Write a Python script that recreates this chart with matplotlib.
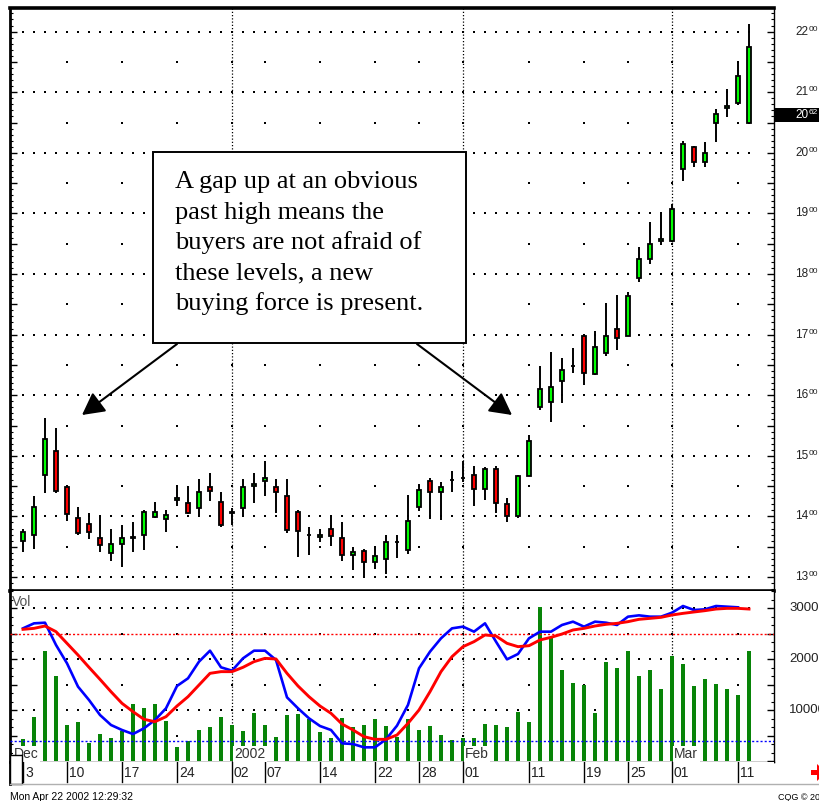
import matplotlib
matplotlib.use('Agg')
import matplotlib.pyplot as plt
import matplotlib.transforms as mtrans
from matplotlib import font_manager
from matplotlib.patches import Rectangle, FancyArrowPatch, Polygon
from matplotlib.lines import Line2D
from matplotlib.ticker import MultipleLocator

# daily bars, Dec 2001 - Mar 2002
opens = [1359, 1369, 1469, 1508, 1449, 1398, 1388, 1365, 1340, 1355, 1365, 1369, 1399, 1395, 1427, 1422, 1414,
         1449, 1424, 1406, 1414, 1450, 1458, 1448, 1434, 1408, 1369, 1366, 1379, 1365, 1336, 1343, 1324, 1329,
         1357, 1345, 1416, 1459, 1440, 1460, 1463, 1469, 1446, 1479, 1421, 1400, 1467, 1580, 1589, 1623, 1648,
         1698, 1635, 1669, 1709, 1698, 1793, 1825, 1855, 1855, 1974, 2010, 1984, 2050, 2074, 2083, 2049]
highs = [1379, 1433, 1563, 1546, 1451, 1416, 1406, 1399, 1379, 1385, 1390, 1411, 1423, 1411, 1450, 1450, 1462,
         1472, 1440, 1414, 1462, 1472, 1492, 1462, 1462, 1411, 1383, 1379, 1401, 1391, 1350, 1346, 1350, 1369,
         1369, 1435, 1453, 1463, 1457, 1475, 1491, 1483, 1481, 1483, 1431, 1469, 1534, 1648, 1672, 1661, 1678,
         1699, 1706, 1752, 1765, 1771, 1844, 1886, 1902, 1916, 2020, 2012, 2017, 2073, 2105, 2150, 2212]
lows = [1342, 1346, 1439, 1438, 1392, 1370, 1362, 1341, 1326, 1317, 1342, 1345, 1397, 1374, 1417, 1404, 1401,
        1425, 1383, 1386, 1401, 1422, 1434, 1406, 1372, 1333, 1336, 1357, 1351, 1327, 1312, 1301, 1313, 1305,
        1331, 1338, 1409, 1396, 1394, 1441, 1457, 1417, 1427, 1405, 1390, 1398, 1466, 1576, 1556, 1587, 1636,
        1617, 1633, 1665, 1675, 1697, 1787, 1816, 1848, 1853, 1954, 1976, 1976, 2017, 2059, 2079, 2048]
closes = [1375, 1416, 1528, 1442, 1404, 1372, 1375, 1352, 1355, 1365, 1366, 1408, 1408, 1402, 1431, 1406, 1440,
          1442, 1386, 1407, 1449, 1453, 1463, 1440, 1378, 1376, 1369, 1370, 1368, 1336, 1342, 1325, 1334, 1357,
          1357, 1392, 1444, 1440, 1448, 1460, 1463, 1446, 1479, 1422, 1401, 1467, 1524, 1610, 1613, 1642, 1649,
          1637, 1680, 1698, 1694, 1763, 1824, 1849, 1858, 1908, 2015, 1984, 1999, 2064, 2077, 2127, 2174]
volume = [4250, 8570, 21630, 16670, 7060, 7580, 3600, 5230, 4510, 5950, 11110, 10390, 11110, 7780, 2680, 3860,
          6140, 6670, 8570, 7060, 5950, 9480, 7060, 4770, 9020, 9220, 8170, 5690, 4510, 8500, 6670, 7060, 8240,
          6860, 4770, 8240, 6140, 6860, 5030, 4050, 4510, 4510, 7320, 7060, 6670, 9610, 7580, 30260, 24380,
          17840, 15230, 14900, 9410, 19480, 18300, 21630, 16670, 17840, 14120, 20590, 19020, 14770, 16010,
          15030, 14120, 12940, 21630]
vol_fast = [26010, 26990, 27120, 22750, 19150, 14580, 11960, 9020, 7060, 6080, 5290, 6410, 8040, 10330, 14710,
            16210, 19480, 21630, 18370, 17710, 20130, 21630, 21630, 19800, 12480, 10330, 8370, 6860, 6080, 3460,
            3330, 2680, 2680, 4250, 6930, 11000, 18170, 21440, 24050, 26010, 26340, 25360, 26990, 23400, 19930,
            20980, 24050, 25360, 25360, 26670, 27320, 26340, 27320, 27120, 26670, 28300, 28560, 28300, 28300,
            29080, 30390, 29610, 29740, 30390, 30260, 30130]
vol_slow = [25820, 26010, 26470, 25360, 23070, 20780, 18370, 16010, 13590, 11310, 9670, 8170, 7710, 8690, 10780,
            12610, 14900, 17190, 17520, 17520, 18370, 19480, 20130, 20000, 17190, 14710, 12610, 10780, 9350, 7250,
            6080, 4770, 4250, 4250, 5100, 7390, 10000, 13590, 17520, 20460, 22420, 23400, 24710, 24510, 23070,
            22420, 22610, 23730, 24250, 24900, 25690, 26010, 26470, 26800, 26990, 27320, 27780, 27970, 28170,
            28630, 28950, 29220, 29480, 29800, 29930, 29930, 29800]
vol_upper = 25000
vol_lower = 4000
last_label = 2062

tick_idx = [0, 4, 9, 14, 19, 22, 27, 32, 36, 40, 46, 51, 55, 59, 65]
tick_lab = ['3', '10', '17', '24', '02', '07', '14', '22', '28', '01', '11', '19', '25', '01', '11']
month_idx = [-1, 19, 40, 59]
month_lab = ['Dec', '2002', 'Feb', 'Mar']
month_lines = [19, 40, 59]
price_levels = list(range(1300, 2201, 100))
vol_levels = [10000, 20000, 30000]
note_lines = ['A gap up at an obvious', 'past high means the', 'buyers are not afraid of',
              'these levels, a new', 'buying force is present.']

names = {f.name for f in font_manager.fontManager.ttflist}
narrow = 'Liberation Sans Narrow' if 'Liberation Sans Narrow' in names else 'Liberation Sans'

W, H = 820, 801
def P(x, y):
    return (x / W, 1 - y / H)

fig = plt.figure(figsize=(W / 100, H / 100), dpi=100)
fig.patch.set_facecolor('white')

x0, x1 = 10, 774
ax_p = fig.add_axes([x0 / W, 1 - 591 / H, (x1 - x0) / W, (591 - 8) / H])
ax_v = fig.add_axes([x0 / W, 1 - 762 / H, (x1 - x0) / W, (762 - 591) / H])
ax_d = fig.add_axes([x0 / W, 1 - 784 / H, (x1 - x0) / W, (784 - 762) / H])

n = len(closes)
idx = list(range(n))
xlim = ((x0 - 23) / 11, (x1 - 23) / 11)
for a in (ax_p, ax_v, ax_d):
    a.set_xlim(*xlim)
    a.set_xticks([])

# ---- price panel
ax_p.set_ylim(1300 - 14 / 0.606, 1300 + 569 / 0.606)
for lvl in range(1300, 2201, 50):
    if lvl % 100 == 0:
        xs = [i for i in idx]
    else:
        xs = [t for t in tick_idx if t > 0]
    ax_p.scatter(xs, [lvl] * len(xs), s=1.0, marker='s', c='black', linewidths=0, zorder=1)
for m in month_lines:
    ax_p.axvline(m, color='black', lw=0.9, ls=(0, (1, 1.6)), zorder=1)
    ax_v.axvline(m, color='black', lw=0.9, ls=(0, (1, 1.6)), zorder=1)

ax_p.vlines(idx, lows, highs, color='black', lw=1.4, zorder=2)
body_col = ['#00ff00' if c > o else '#ff0000' for o, c in zip(opens, closes)]
ax_p.bar(idx, [abs(c - o) for o, c in zip(opens, closes)], bottom=[min(o, c) for o, c in zip(opens, closes)],
         width=0.42, color=body_col, edgecolor='black', linewidth=1.3, zorder=3)

ax_p.yaxis.set_major_locator(MultipleLocator(50))
ax_p.yaxis.set_minor_locator(MultipleLocator(10))
ax_p.tick_params(axis='y', which='major', direction='in', length=5, width=1, left=True, right=True,
                 labelleft=False, labelright=False)
ax_p.tick_params(axis='y', which='minor', direction='in', length=2.5, width=0.8, left=True, right=True)
ax_p.spines['top'].set_linewidth(2.6)
ax_p.spines['bottom'].set_linewidth(2.6)
ax_p.spines['left'].set_linewidth(2)
ax_p.spines['right'].set_linewidth(1)

tp = mtrans.blended_transform_factory(ax_p.transAxes, ax_p.transData)
def price_label(v, color, z=3):
    s = str(v)
    ax_p.annotate(s[:2], xy=(1, v), xycoords=tp, xytext=(21, 0), textcoords='offset pixels',
                  ha='left', va='center', fontsize=8.5, family=narrow, color=color, zorder=z,
                  annotation_clip=False)
    ax_p.annotate(s[2:], xy=(1, v), xycoords=tp, xytext=(35, 6), textcoords='offset pixels',
                  ha='left', va='top', fontsize=6, family=narrow, color=color, zorder=z,
                  annotation_clip=False)

for v in price_levels:
    price_label(v, '#222222')
ax_p.add_patch(Rectangle((1.0, last_label - 7 / 0.606), 50 / (x1 - x0), 14 / 0.606, transform=tp,
                         facecolor='black', edgecolor='none', clip_on=False, zorder=5))
price_label(last_label, 'white', 6)

# ---- volume panel
ax_v.set_ylim(-1 / 51 * 10000, 170 / 51 * 10000)
for lvl in range(5000, 30001, 5000):
    if lvl % 10000 == 0:
        xs = [i for i in idx]
    else:
        xs = [t for t in tick_idx if t > 0]
    ax_v.scatter(xs, [lvl] * len(xs), s=1.0, marker='s', c='black', linewidths=0, zorder=1)
ax_v.bar(idx, volume, width=0.32, color='#088408', zorder=2)
ax_v.axhline(vol_upper, color='#ff0000', lw=1, ls=(0, (1.5, 1.5)), zorder=3)
ax_v.axhline(vol_lower, color='#0000ff', lw=1, ls=(0, (1.5, 1.5)), zorder=3)
ax_v.plot(idx[:len(vol_fast)], vol_fast, color='#0000ff', lw=1.9, zorder=5)
ax_v.plot(idx, vol_slow, color='#ff0000', lw=2.1, zorder=6)
for m, lab in zip(month_idx, month_lab):
    ax_v.text(m + 0.2, 0, lab, ha='left', va='bottom', fontsize=10, family=narrow, color='#333333', zorder=4,
              bbox=dict(facecolor='white', edgecolor='none', pad=1))
ax_v.text(0.003, 0.975, 'Vol', transform=ax_v.transAxes, ha='left', va='top', fontsize=10, family=narrow,
          color='#555555')

ax_v.yaxis.set_major_locator(MultipleLocator(5000))
ax_v.yaxis.set_minor_locator(MultipleLocator(5000 / 3))
ax_v.tick_params(axis='y', which='major', direction='in', length=5, width=1, left=True, right=True,
                 labelleft=False, labelright=False)
ax_v.tick_params(axis='y', which='minor', direction='in', length=2.5, width=0.8, left=True, right=True)
ax_v.spines['top'].set_visible(False)
ax_v.spines['left'].set_linewidth(2)
ax_v.spines['right'].set_linewidth(1)
ax_v.spines['bottom'].set_linewidth(1)
tv = mtrans.blended_transform_factory(ax_v.transAxes, ax_v.transData)
for v in vol_levels:
    ax_v.annotate(str(v), xy=(1, v), xycoords=tv, xytext=(15, 0), textcoords='offset pixels',
                  ha='left', va='center', fontsize=9.5, family=narrow, color='#222222', annotation_clip=False)

# ---- date row
ax_d.set_ylim(0, 1)
ax_d.set_yticks([])
for sp in ('top', 'right', 'bottom'):
    ax_d.spines[sp].set_visible(False)
ax_d.spines['left'].set_linewidth(2)
for t, lab in zip(tick_idx, tick_lab):
    ax_d.axvline(t, 0.09, 1, color='black', lw=1)
    ax_d.text(t + 0.18, 0.5, lab, ha='left', va='center', fontsize=10, family=narrow, color='#222222')

fig.add_artist(Rectangle(P(10, 784), 12 / W, 29 / H, transform=fig.transFigure,
                         facecolor='white', edgecolor='black', lw=1, zorder=10))
fig.add_artist(Line2D([10 / W, 1], [1 - 784 / H] * 2, color='#b0b0b0', lw=1, zorder=10))
fig.add_artist(Polygon([P(811, 770), P(817, 770), P(817, 764), P(826, 772.5), P(817, 781), P(817, 775),
                        P(811, 775)], closed=True, transform=fig.transFigure, facecolor='#ff0000',
                       edgecolor='none', zorder=10))
fig.text(10 / W, 1 - 797 / H, 'Mon Apr 22 2002 12:29:32', ha='left', va='center', fontsize=7.5, family=narrow)
fig.text(778 / W, 1 - 797 / H, 'CQG \u00a9 2002', ha='left', va='center', fontsize=6.5, family=narrow)

# ---- note box with arrows
fig.add_artist(Rectangle(P(153, 343), 313 / W, 191 / H, transform=fig.transFigure,
                         facecolor='white', edgecolor='black', lw=1.4, zorder=20))
for k, line in enumerate(note_lines):
    fig.text(175 / W, 1 - (188 + 30.5 * k) / H, line, ha='left', va='baseline', fontsize=19,
             family='Liberation Serif', zorder=21)
for a, b in ((P(177, 344), P(82, 415)), (P(417, 344), P(512, 415))):
    fig.add_artist(FancyArrowPatch(a, b, transform=fig.transFigure,
                                   arrowstyle='-|>,head_length=1.35,head_width=0.72', mutation_scale=10,
                                   lw=1.5, color='black', shrinkA=0, shrinkB=0, zorder=20))

fig.savefig('out.png', dpi=100)
